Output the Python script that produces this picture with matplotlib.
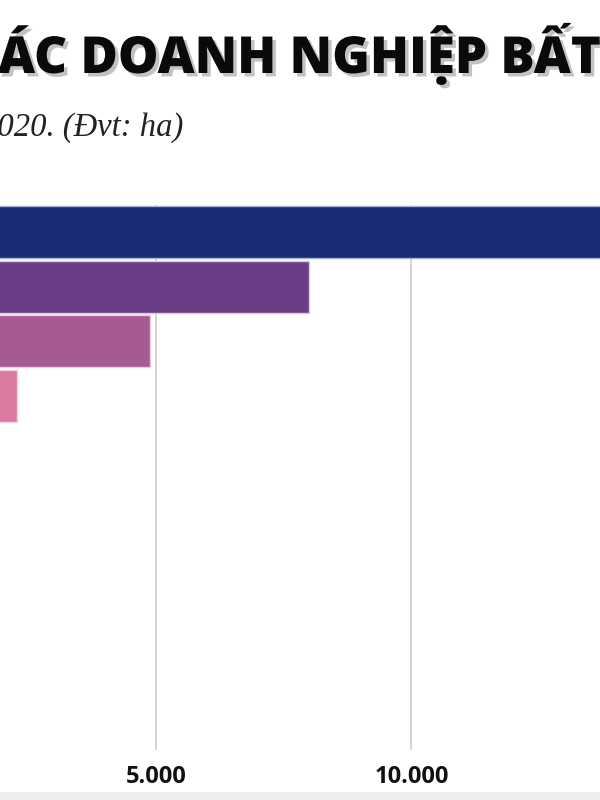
import matplotlib
matplotlib.use("Agg")
import matplotlib.pyplot as plt
import matplotlib.patheffects as pe
from matplotlib.patches import Rectangle

# ---- data ----
categories = ["DN 1", "DN 2", "DN 3", "DN 4", "DN 5",
              "DN 6", "DN 7", "DN 8", "DN 9", "DN 10"]
values = [16000, 8000, 4890, 2290, 1800, 1500, 1200, 950, 700, 450]
colors = ["#1b2a74", "#6a3e86", "#a55a90", "#db7aa0", "#e88f9c",
          "#f0a39a", "#f4b59c", "#f7c6a3", "#f9d5ae", "#fbe2bd"]
edge_colors = ["#a9b0d8", "#d8c8e4", "#ecc9df", "#f5d0dd", "#f5d0d4",
               "#f8d8d2", "#f9e0d4", "#fbe7d8", "#fcedde", "#fdf2e4"]
xticks = [5000, 10000]
xtick_labels = ["5.000", "10.000"]
title = "CÁC DOANH NGHIỆP BẤT ĐỘNG SẢN"
subtitle = "Quỹ đất của các doanh nghiệp năm 2020. (Đvt: ha)"

W, H, DPI = 600, 800, 100
fig = plt.figure(figsize=(W / DPI, H / DPI), dpi=DPI)
fig.patch.set_facecolor("white")

# axes: x=0 sits at about -100 px, 5000 units ~ 255.6 px
px_per_unit = 255.6 / 5000
xmax = 16500
left_px = -99.8
ax_w_px = xmax * px_per_unit
top_px, bottom_px = 205, 750
ax = fig.add_axes([left_px / W, 1 - bottom_px / H, ax_w_px / W, (bottom_px - top_px) / H])
ax.set_facecolor("none")

y = list(range(len(categories)))
ax.barh(y, values, height=0.95, color=colors, edgecolor=edge_colors, linewidth=1.0, zorder=3)
ax.set_xlim(0, xmax)
ax.set_ylim(len(categories) - 0.5, -0.5)
ax.set_yticks([])
ax.set_xticks(xticks)
ax.set_xticklabels(xtick_labels)
ax.grid(axis="x", color="#d4d4d4", linewidth=1.4, zorder=0)
for s in ax.spines.values():
    s.set_visible(False)
ax.tick_params(axis="both", length=0)
ax.tick_params(axis="x", pad=11)
for t in ax.get_xticklabels():
    t.set_fontfamily("Open Sans")
    t.set_fontweight("bold")
    t.set_fontsize(17)
    t.set_color("#111111")

renderer = fig.canvas.get_renderer()

def text_width(s, **kw):
    t = fig.text(0, 0, s, **kw)
    w = t.get_window_extent(renderer).width
    t.remove()
    return w

# ---- title (cropped on both sides in the reference) ----
tkw = dict(fontfamily="Open Sans", fontweight="heavy")
base = 40
w_vis = text_width("ÁC DOANH NGHIỆP BẤT", fontsize=base, **tkw)
fs = base * 602 / w_vis
w_c = text_width("C", fontsize=fs, **tkw)
tt = fig.text((-w_c - 2) / W, 1 - 73 / H, title, fontsize=fs, color="#0a0a0a",
              ha="left", va="baseline", **tkw)
tt.set_path_effects([pe.withSimplePatchShadow(offset=(2.5, -2.5), shadow_rgbFace="#9a9a9a", alpha=0.6)])

# ---- subtitle (cropped on left) ----
skw = dict(fontfamily="Liberation Serif", fontstyle="italic")
sbase = 20
w_sub = text_width("020. (Đvt: ha)", fontsize=sbase, **skw)
sfs = sbase * 186 / w_sub
fig.text(183 / W, 1 - 136 / H, subtitle, fontsize=sfs, color="#222222",
         ha="right", va="baseline", **skw)

# bottom grey strip
fig.patches.append(Rectangle((0, 0), 1, 8 / H, transform=fig.transFigure,
                             facecolor="#eeeeee", edgecolor="none"))

fig.savefig("out.png", dpi=DPI)
